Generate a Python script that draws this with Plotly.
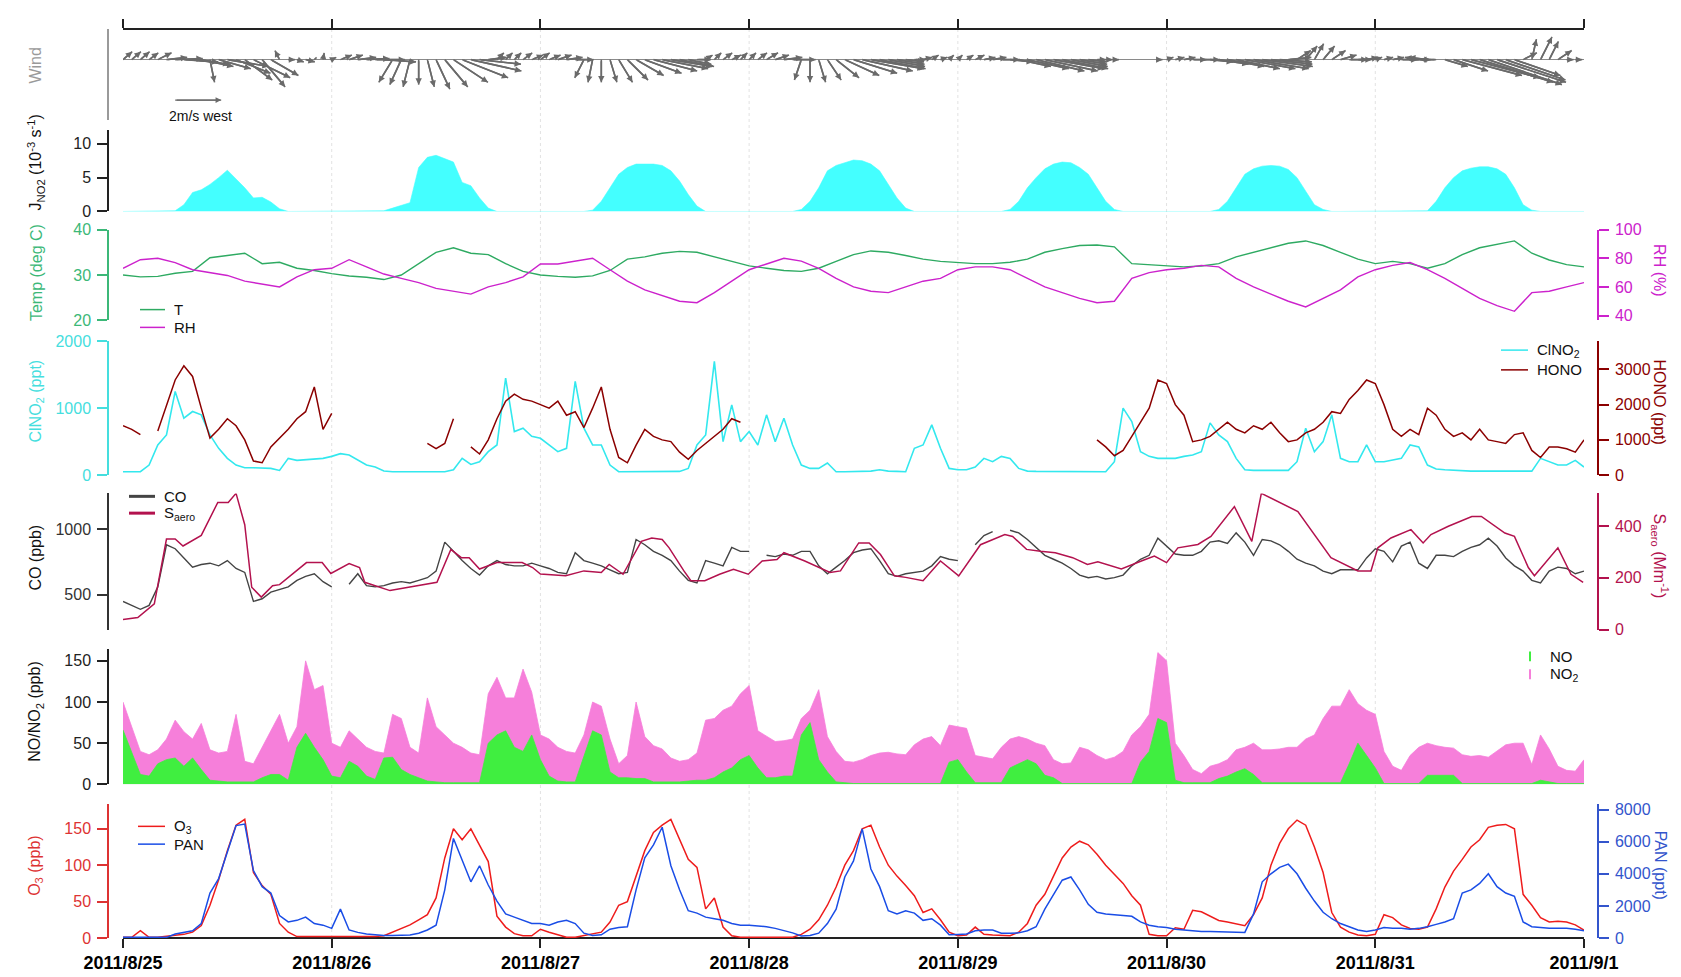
import plotly.graph_objects as go

# ---------------- data (hours since 2011/8/25 00:00) ----------------
hours = list(range(169))
day_ticks = [0, 24, 48, 72, 96, 120, 144, 168]
day_labels = ["2011/8/25", "2011/8/26", "2011/8/27", "2011/8/28",
              "2011/8/29", "2011/8/30", "2011/8/31", "2011/9/1"]

jno2 = [0,0,0,0,0,0,0.1,1.0,2.8,3.2,4.0,5.0,6.1,4.8,3.5,2.0,2.1,1.4,0.4,0,0,0,0,0,
        0,0,0,0,0,0,0.1,0.5,0.9,1.3,6.5,8.0,8.3,7.8,7.3,4.3,3.8,2.0,0.5,0,0,0,0,0,
        0,0,0,0,0,0,0.2,1.5,3.5,5.5,6.5,7.0,7.0,7.0,6.8,6.0,4.5,2.5,0.8,0,0,0,0,0,
        0,0,0,0,0,0,0.3,1.5,3.5,6.0,6.8,7.2,7.6,7.5,7.0,6.0,4.0,2.0,0.5,0,0,0,0,0,
        0,0,0,0,0,0,0.3,1.5,3.5,5.0,6.3,7.0,7.3,7.2,6.5,5.5,3.5,1.5,0.3,0,0,0,0,0,
        0,0,0,0,0,0,0.3,1.5,3.5,5.5,6.3,6.7,6.8,6.7,6.2,5.0,3.0,1.0,0.3,0,0,0,0,0,
        0,0,0,0,0,0,0.1,1.5,3.5,5.0,6.0,6.4,6.6,6.6,6.3,5.5,3.5,1.0,0.2,0,0,0,0,0,
        0]

temp_hours = list(range(0, 169, 2))
temp = [30.0,29.6,29.7,30.4,30.8,33.8,34.3,34.8,32.5,32.8,31.5,31.0,
        30.3,29.8,29.5,29.0,30.0,32.5,35.0,36.0,34.8,34.5,32.5,30.8,
        30.0,29.7,29.5,29.8,31.0,33.5,34.0,34.8,35.2,35.0,34.0,33.0,
        32.0,31.5,31.0,30.8,31.5,33.0,34.5,35.3,35.0,34.3,33.5,33.0,
        32.8,32.5,32.5,32.8,33.5,35.0,35.8,36.5,36.6,36.2,32.5,32.3,
        32.0,31.8,32.0,32.5,34.0,35.0,36.0,37.0,37.5,36.5,35.0,33.5,
        32.5,33.0,32.5,31.5,32.5,34.5,36.0,36.8,37.5,34.8,33.3,32.3,
        31.8]
rh = [73,79,80,77,72,70,68,64,62,60,67,72,
      73,79,74,69,66,63,59,57,55,60,63,67,
      76,76,78,80,72,64,58,54,50,49,56,64,
      72,76,80,78,73,66,60,57,56,60,64,66,
      72,74,74,72,66,60,56,52,49,50,66,70,
      72,73,75,74,66,60,55,50,46,52,58,67,
      72,75,77,72,66,59,52,47,43,56,57,60,
      63]

clno2 = [50,50,50,150,450,600,1250,850,950,900,600,400,250,150,110,110,110,100,70,250,220,230,250,250,
         280,320,300,230,150,120,60,50,50,50,50,50,50,50,80,250,160,200,350,450,1450,650,700,580,
         550,450,350,400,1400,700,450,450,150,50,50,50,50,50,60,60,55,100,450,600,1700,500,1050,500,
         650,450,900,500,850,450,150,100,100,180,50,50,50,55,60,80,60,55,50,400,450,750,400,100,
         80,80,120,250,200,280,250,100,60,55,55,55,55,55,55,55,50,50,200,1000,800,350,280,250,
         250,250,280,300,350,780,600,500,250,80,70,70,70,70,70,200,700,350,500,900,250,200,200,450,
         200,200,220,250,450,420,150,90,80,70,60,60,60,60,55,50,50,50,60,250,200,150,150,220,
         120]

N = None
hono = [1400,1300,1150,N,1250,2000,2700,3100,2800,1900,1050,1300,1600,1400,1000,400,350,800,1050,1300,1600,1800,2500,1300,
        1750,N,N,N,N,N,N,N,N,N,N,900,750,900,1600,N,800,600,1000,1600,2100,2300,2150,2100,
        2000,1900,2100,1700,1800,1350,1900,2500,1300,500,350,850,1300,1100,1000,950,650,450,700,900,1100,1300,1600,1500,
        N,N,N,N,N,N,N,N,N,N,N,N,N,N,N,N,N,N,N,N,N,N,N,N,
        N,N,N,N,N,N,N,N,N,N,N,N,N,N,N,N,1000,800,550,700,1100,1500,1900,2700,
        2600,2000,1700,950,1000,1100,1300,1500,1300,1200,1400,1300,1500,1200,950,1000,1200,1300,1500,1800,1750,2150,2400,2700,
        2600,2000,1300,1100,1300,1150,1900,1700,1300,1100,1200,1000,1300,1000,950,900,1150,1200,700,500,800,800,750,650,
        1000]

co = [450,420,390,420,560,880,850,780,710,730,740,720,760,700,670,450,470,520,540,560,610,640,660,600,
      560,N,580,660,570,560,570,590,600,590,610,630,680,900,830,760,700,650,720,760,730,720,720,740,
      720,700,670,660,820,760,740,720,690,660,670,920,880,830,800,760,680,610,590,760,740,720,860,830,
      830,N,800,790,810,800,830,830,720,660,710,760,820,840,850,760,660,640,660,670,680,720,790,770,
      760,N,880,950,980,N,990,970,920,860,800,770,740,700,650,630,640,620,630,650,720,770,800,930,
      870,810,800,800,830,900,910,890,970,900,800,920,910,880,830,770,740,720,680,660,690,690,690,780,
      850,830,750,870,900,740,700,800,800,790,830,860,880,930,870,780,720,680,610,590,680,710,700,660,
      680]

saero_hours = [0,1.7,3.6,5,6,6.9,9,10.9,12.1,13,14,14.8,15.9,17.2,18,21.1,22.9,23.9,26,27.2,27.8,30.7,
               36.1,37.7,38.9,39.8,41,43,45.9,47.1,48,50.9,53,55,55.9,57.5,59.6,60.8,62,62.8,64.5,65.3,
               66.9,68.6,70.2,71.9,73.5,75.2,76,78.4,81.3,82.5,84.6,85.8,87.1,88.7,90,92,94,96.1,98.6,
               101.4,102.3,103.9,105.5,107.2,109.2,110.9,112.1,114.8,117.1,118.6,120,121.3,123.6,125.1,
               127.8,129.8,130.9,135.1,138.9,142,143.5,144.3,145.8,148.1,149.5,150.4,152.4,155.1,156.2,
               158.9,160,161.6,162.3,165,166.5,167.9]
saero = [39,47,100,350,350,323,364,491,491,526,405,164,126,170,174,259,259,217,255,240,183,151,
         183,310,278,278,234,259,259,240,215,208,227,221,252,214,341,354,348,316,227,189,
         189,214,233,214,265,271,297,265,221,227,335,335,290,208,202,189,265,208,328,
         367,360,310,303,297,278,252,262,234,265,284,259,316,329,360,
         475,341,526,456,278,227,227,316,354,386,335,367,399,437,437,
         373,360,240,208,316,214,183]

no2 = [100,70,40,36,42,55,78,64,55,74,42,38,40,85,28,25,45,65,85,50,70,150,115,120,
       50,45,65,55,45,40,38,85,80,45,38,105,70,60,50,45,38,36,110,130,105,105,140,112,
       60,55,45,40,38,60,100,95,55,25,35,100,58,47,43,32,28,30,38,78,80,90,95,110,
       120,65,58,52,53,55,80,90,115,58,40,28,27,30,35,38,39,37,36,48,55,58,47,72,
       70,68,35,33,31,45,55,58,55,50,47,30,25,26,45,42,35,30,33,40,60,70,85,160,
       150,50,35,18,13,22,25,30,42,45,50,42,42,43,45,45,55,60,80,95,95,115,98,90,
       85,40,22,17,35,45,50,47,45,44,36,34,35,33,40,48,50,50,24,60,43,22,17,16,
       30]
no = [66,40,12,10,25,30,32,22,32,18,5,4,3,3,3,3,8,12,12,5,45,62,45,30,
      10,8,28,22,10,6,32,33,18,12,8,4,3,2,2,2,2,2,50,60,65,45,40,60,
      30,10,4,3,3,35,65,60,15,8,8,7,7,3,3,3,3,4,5,5,8,15,20,30,
      35,20,8,8,10,10,60,75,30,15,3,2,1,1,1,1,1,1,1,1,1,1,1,27,
      30,15,2,2,2,2,20,25,30,25,11,8,1,1,1,1,1,1,1,1,1,27,40,80,
      75,5,2,2,2,2,7,10,15,19,12,2,2,2,2,2,2,2,2,2,2,25,50,35,
      20,1,1,1,1,1,11,11,11,11,1,1,1,1,1,1,1,1,1,5,3,1,1,1,
      1]

o3 = [1,1,10,1,1,2,3,5,8,17,45,80,120,155,163,90,72,60,20,8,2,2,2,2,
      1,1,1,1,1,2,3,8,12,18,25,32,55,110,150,135,150,128,105,30,15,6,3,3,
      12,8,4,1,1,3,5,8,22,45,50,85,120,145,155,163,135,108,97,40,55,15,3,1,
      1,1,1,1,1,1,5,12,25,45,70,100,120,150,155,125,100,85,72,58,35,40,25,8,
      3,4,15,5,4,3,3,8,20,45,60,85,110,125,133,128,115,100,88,75,58,45,5,3,
      3,14,12,38,36,30,24,22,19,17,32,55,100,130,150,162,155,125,90,35,15,8,4,3,
      5,32,28,18,13,12,15,40,70,92,108,125,135,152,155,156,150,60,45,28,22,23,22,18,
      11]
pan = [40,40,40,40,40,40,250,350,450,900,2800,3700,5300,7000,7100,4200,3200,2800,1400,1000,1100,1300,900,800,
       600,1800,500,350,250,200,150,150,150,180,300,500,800,3000,6200,4800,3500,4500,3300,2300,1500,1300,1100,900,
       900,800,1000,1100,900,300,150,200,550,650,700,3000,5000,5800,6900,4500,3000,1700,1550,1300,1200,1100,900,800,
       800,750,700,600,450,320,120,150,300,900,1800,3800,4800,6800,4300,3200,1700,1500,1700,1550,1100,1200,800,200,
       220,250,450,500,500,300,300,320,450,700,1800,2700,3600,3800,3000,2100,1600,1500,1450,1400,1350,1000,800,700,
       650,550,500,450,400,400,380,350,330,350,1500,3500,4000,4400,4600,4000,3100,2300,1600,1200,900,700,500,400,
       500,650,600,600,550,600,700,850,1000,1200,2800,3000,3400,4000,3200,2800,2600,1000,700,650,600,600,600,550,
       450]

wind_hours = list(range(168))
wind_u = [0.4,0.4,0.4,0.4,0.6,0.9,1.2,1.5,1.6,1.4,0.2,1.4,1.8,1.5,1.2,1.6,1.0,1.2,-0.2,0.3,0.3,0.4,0.1,0.05,
          0.2,0.5,0.6,0.8,1.0,1.3,1.4,-0.6,-0.5,-0.3,0.0,0.3,0.6,1.0,1.5,2.0,2.2,1.8,0.8,0.3,0.3,0.3,0.4,0.5,
          0.4,0.5,0.6,0.7,0.8,-0.4,-0.2,0.0,0.3,0.6,0.9,1.2,1.6,1.9,2.0,1.8,1.5,1.0,0.6,0.3,0.3,0.4,0.4,0.3,
          0.3,0.4,0.5,0.6,0.8,1.0,-0.3,0.0,0.3,0.6,1.0,1.5,1.9,2.2,2.3,2.0,1.6,1.2,0.8,0.5,0.4,0.3,0.3,0.2,
          0.2,0.3,0.4,0.5,0.6,0.8,1.0,1.4,1.8,2.1,2.3,2.2,2.0,1.6,1.2,0.8,0.4,0.3,0.2,0.1,0.1,0.1,0.1,0.2,
          0.3,0.4,0.5,0.6,0.8,1.0,1.3,1.6,1.9,2.2,2.4,2.2,1.8,1.4,1.0,0.6,0.5,0.4,0.5,0.6,0.7,0.8,0.6,0.5,
          0.3,0.4,0.5,0.7,0.9,-0.6,-0.8,-0.7,1.0,1.5,2.6,3.0,3.2,3.2,3.0,2.6,2.0,0.6,0.2,0.5,0.4,0.6,0.3,0.3]
wind_v = [0.35,0.35,0.35,0.3,0.3,0.1,0.05,-0.1,-0.2,-0.3,-1.0,-0.4,-0.3,-0.6,-0.9,-0.8,-1.2,-0.7,0.4,0.0,-0.1,-0.1,0.1,0.3,
          0.1,0.2,0.2,0.1,0.05,0.0,-0.1,-1.0,-1.1,-1.2,-1.1,-1.2,-1.3,-1.2,-1.0,-0.8,-0.5,-0.2,0.1,0.3,0.3,0.3,0.3,0.2,
          0.3,0.2,0.2,0.1,0.0,-0.8,-1.0,-1.0,-1.0,-1.0,-0.9,-0.7,-0.6,-0.5,-0.4,-0.3,-0.3,-0.2,0.0,0.2,0.3,0.3,0.2,0.3,
          0.3,0.3,0.3,0.2,0.1,0.0,-0.9,-1.0,-1.0,-0.9,-0.8,-0.7,-0.6,-0.5,-0.4,-0.4,-0.3,-0.2,-0.1,0.0,0.1,0.2,0.1,0.2,
          0.2,0.2,0.2,0.1,0.1,0.0,-0.1,-0.3,-0.4,-0.5,-0.5,-0.4,-0.4,-0.3,-0.2,-0.1,0.0,0.0,0.0,0.0,0.0,0.0,0.0,0.0,
          0.1,0.1,0.1,0.0,0.0,-0.1,-0.2,-0.3,-0.4,-0.4,-0.4,-0.3,-0.2,-0.1,0.1,0.4,0.6,0.7,0.6,0.4,0.2,0.0,0.0,0.1,
          0.1,0.1,0.1,0.0,0.0,0.1,0.1,0.0,-0.3,-0.5,-0.7,-0.8,-1.0,-1.1,-1.0,-0.9,-0.7,0.3,0.9,1.0,0.8,0.4,0.0,0.0]
wind_scale_speed = 2.0  # m/s, reference arrow

# ---------------- geometry ----------------
W, H = 1681, 977
ML, MR, MT, MB = 100, 91, 15, 42
PW, PH = W - ML - MR, H - MT - MB
FONT = "Liberation Sans, Arial, Helvetica, sans-serif"


def fx(x):
    return (x - ML) / PW


def fy(y):
    return (H - MB - y) / PH


X0, X1 = 115, 1576
px_per_hour = (X1 - X0) / 168.0
px_per_ms = 23.0
K = px_per_ms / px_per_hour  # hours of x per m/s

C_WIND = '#6a6a6a'
C_WAX = '#9a9a9a'
C_J = '#44ffff'
C_T = '#2eaa62'
C_TAX = '#3cb878'
C_RH = '#cc22cc'
C_CL = '#33e8ee'
C_CLAX = '#45dede'
C_HONO = '#8b0000'
C_CO = '#444444'
C_S = '#b3124e'
C_NO = '#40ee40'
C_NO2 = '#f67fda'
C_O3 = '#ee1c1c'
C_O3AX = '#dd3333'
C_PAN = '#1a4de6'
C_PANAX = '#3355cc'

fig = go.Figure()
annots = []

# wind sticks (shafts as a trace, heads as data-referenced annotation arrows)
wx, wy = [], []
for h, u, v in zip(wind_hours, wind_u, wind_v):
    if u * u + v * v < 0.02:
        continue
    tip_x, tip_y = h + u * K, v
    wx += [h, tip_x, None]
    wy += [0, tip_y, None]
    annots.append(dict(x=tip_x, y=tip_y, ax=h, ay=0, xref='x2', yref='y', axref='x2', ayref='y',
                       text='', showarrow=True, arrowhead=2, arrowsize=0.8, arrowwidth=1.6,
                       arrowcolor=C_WIND, standoff=0, startstandoff=0))
fig.add_trace(go.Scatter(x=wx, y=wy, mode='lines', xaxis='x2', yaxis='y',
                         line=dict(color=C_WIND, width=1.6), connectgaps=False,
                         showlegend=False, hoverinfo='skip'))
# scale arrow (2 m/s)
sx0, sy0 = 6.0, -1.78
fig.add_trace(go.Scatter(x=[sx0, sx0 + wind_scale_speed * K], y=[sy0, sy0], mode='lines',
                         xaxis='x2', yaxis='y', line=dict(color=C_WIND, width=1.4),
                         showlegend=False, hoverinfo='skip'))
annots.append(dict(x=sx0 + wind_scale_speed * K, y=sy0, ax=sx0, ay=sy0, xref='x2', yref='y',
                   axref='x2', ayref='y', text='', showarrow=True, arrowhead=2, arrowsize=0.8,
                   arrowwidth=1.4, arrowcolor=C_WIND, standoff=0))

fig.add_trace(go.Scatter(x=hours, y=jno2, yaxis='y3', fill='tozeroy', fillcolor=C_J,
                         line=dict(color=C_J, width=0.6), showlegend=False))
fig.add_trace(go.Scatter(x=temp_hours, y=temp, yaxis='y5', line=dict(color=C_T, width=1.4), showlegend=False))
fig.add_trace(go.Scatter(x=temp_hours, y=rh, yaxis='y6', line=dict(color=C_RH, width=1.4), showlegend=False))
fig.add_trace(go.Scatter(x=hours, y=clno2, yaxis='y7', line=dict(color=C_CL, width=1.6), showlegend=False))
fig.add_trace(go.Scatter(x=hours, y=hono, yaxis='y8', line=dict(color=C_HONO, width=1.5),
                         connectgaps=False, showlegend=False))
fig.add_trace(go.Scatter(x=hours, y=co, yaxis='y9', line=dict(color=C_CO, width=1.4),
                         connectgaps=False, showlegend=False))
fig.add_trace(go.Scatter(x=saero_hours, y=saero, yaxis='y10', line=dict(color=C_S, width=1.5), showlegend=False))
fig.add_trace(go.Scatter(x=hours, y=no2, yaxis='y11', fill='tozeroy', fillcolor=C_NO2,
                         line=dict(color=C_NO2, width=0.8), showlegend=False))
fig.add_trace(go.Scatter(x=hours, y=no, yaxis='y11', fill='tozeroy', fillcolor=C_NO,
                         line=dict(color=C_NO, width=0.8), showlegend=False))
fig.add_trace(go.Scatter(x=hours, y=o3, yaxis='y13', line=dict(color=C_O3, width=1.5), showlegend=False))
fig.add_trace(go.Scatter(x=hours, y=pan, yaxis='y14', line=dict(color=C_PAN, width=1.5), showlegend=False))


def yax(domain, rng, color, tickvals, side='left', overlaying=None, labels=True, ticks='outside', **kw):
    d = dict(range=rng, anchor='free', position=0 if side == 'left' else 1, side=side,
             showline=True, linecolor=color, linewidth=1.5, ticks=ticks, ticklen=10, tickwidth=1.5,
             tickcolor=color, tickvals=tickvals, showticklabels=labels,
             tickfont=dict(size=16, color=color, family=FONT), ticklabelstandoff=3,
             showgrid=False, zeroline=False, fixedrange=True)
    if overlaying:
        d['overlaying'] = overlaying
    else:
        d['domain'] = domain
    d.update(kw)
    return d


dom_wind = [fy(107), fy(15)]
dom_j = [fy(199.7), fy(117)]
dom_t = [fy(310), fy(218)]
dom_cl = [fy(466.5), fy(331)]
dom_co = [fy(623), fy(485)]
dom_no = [fy(779.5), fy(643)]
dom_o3 = [fy(935), fy(799)]

wind_rng = [-(107 - 46) / px_per_ms, (46 - 15) / px_per_ms]

layout = dict(
    width=W, height=H, margin=dict(l=ML, r=MR, t=MT, b=MB),
    paper_bgcolor='white', plot_bgcolor='rgba(0,0,0,0)', showlegend=False,
    font=dict(family=FONT, size=16, color='black'),
    xaxis=dict(domain=[fx(X0), fx(X1)], range=[0, 168], anchor='free', position=0,
               tickvals=day_ticks, ticktext=day_labels, ticks='outside', ticklen=9, tickwidth=1.5,
               showline=True, linecolor='#222222', linewidth=1.5, tickcolor='#222222',
               tickfont=dict(size=18, family=FONT, weight='bold', color='black'),
               showgrid=False, zeroline=False, fixedrange=True),
    xaxis2=dict(overlaying='x', side='top', anchor='free', position=1, range=[0, 168],
                tickvals=day_ticks, ticks='outside', ticklen=9, tickwidth=1.5, showticklabels=False,
                showline=True, linecolor='#222222', linewidth=1.5, tickcolor='#222222',
                showgrid=False, zeroline=False, fixedrange=True),
    yaxis=yax(dom_wind, wind_rng, C_WAX, [], ticks='', labels=False,
              zeroline=True, zerolinecolor='#8a8a8a', zerolinewidth=1),
    yaxis2=yax(None, wind_rng, C_WAX, [], side='right', overlaying='y', ticks='', labels=False),
    yaxis3=yax(dom_j, [0, 12.07], '#222222', [0, 5, 10]),
    yaxis4=yax(None, [0, 12.07], '#222222', [0, 5, 10], side='right', overlaying='y3'),
    yaxis5=yax(dom_t, [20, 40], C_TAX, [20, 30, 40]),
    yaxis6=yax(None, [36.6, 100], C_RH, [40, 60, 80, 100], side='right', overlaying='y5'),
    yaxis7=yax(dom_cl, [0, 2000], C_CLAX, [0, 1000, 2000]),
    yaxis8=yax(None, [0, 3800], C_HONO, [0, 1000, 2000, 3000], side='right', overlaying='y7'),
    yaxis9=yax(dom_co, [235, 1270], '#333333', [500, 1000]),
    yaxis10=yax(None, [0, 526], C_S, [0, 200, 400], side='right', overlaying='y9'),
    yaxis11=yax(dom_no, [0, 163.8], '#222222', [0, 50, 100, 150]),
    yaxis12=yax(None, [0, 163.8], '#222222', [0, 50, 100, 150], side='right', overlaying='y11'),
    yaxis13=yax(dom_o3, [0, 184.6], C_O3AX, [0, 50, 100, 150]),
    yaxis14=yax(None, [0, 8370], C_PANAX, [0, 2000, 4000, 6000, 8000], side='right', overlaying='y13'),
)
fig.update_layout(**layout)

shapes = []
for d in day_ticks[1:-1]:
    shapes.append(dict(type='line', xref='x', yref='paper', x0=d, x1=d, y0=0, y1=1, layer='below',
                       line=dict(color='#e2e2e2', width=1, dash='dot')))


def title(text, x, y, color, angle):
    annots.append(dict(text=text, xref='paper', yref='paper', x=fx(x), y=fy(y), showarrow=False,
                       textangle=angle, xanchor='center', yanchor='middle',
                       font=dict(size=16, color=color, family=FONT)))


title('Wind', 28, 52, '#9a9a9a', -90)
title('J<sub>NO2</sub> (10<sup>-3</sup> s<sup>-1</sup>)', 28, 150, '#111111', -90)
title('Temp (deg C)', 28, 262, C_TAX, -90)
title('ClNO<sub>2</sub> (ppt)', 28, 392, C_CLAX, -90)
title('CO (ppb)', 28, 550, '#111111', -90)
title('NO/NO<sub>2</sub> (ppb)', 28, 706, '#111111', -90)
title('O<sub>3</sub> (ppb)', 28, 862, C_O3AX, -90)
title('RH (%)', 1652, 259, C_RH, 90)
title('HONO (ppt)', 1652, 393, C_HONO, 90)
title('S<sub>aero</sub> (Mm<sup>-1</sup>)', 1652, 549, C_S, 90)
title('PAN (ppt)', 1652, 862, C_PANAX, 90)


def leg_line(x0, x1, y, color, width, text, tx):
    shapes.append(dict(type='line', xref='paper', yref='paper', x0=fx(x0), x1=fx(x1), y0=fy(y), y1=fy(y),
                       line=dict(color=color, width=width)))
    annots.append(dict(text=text, xref='paper', yref='paper', x=fx(tx), y=fy(y), showarrow=False,
                       xanchor='left', yanchor='middle', font=dict(size=15, color='#111111', family=FONT)))


leg_line(132, 157, 299, C_T, 1.5, 'T', 164)
leg_line(132, 157, 317, C_RH, 1.5, 'RH', 164)
leg_line(1493, 1520, 340, C_CL, 1.5, 'ClNO<sub>2</sub>', 1527)
leg_line(1493, 1520, 360, C_HONO, 1.5, 'HONO', 1527)
leg_line(121, 147, 488, C_CO, 3, 'CO', 154)
leg_line(121, 147, 505, C_S, 3, 'S<sub>aero</sub>', 154)
leg_line(130, 157, 822, C_O3, 1.5, 'O<sub>3</sub>', 164)
leg_line(130, 157, 840, C_PAN, 1.5, 'PAN', 164)
for yy, col, txt in [(650, C_NO, 'NO'), (668, C_NO2, 'NO<sub>2</sub>')]:
    shapes.append(dict(type='line', xref='paper', yref='paper', x0=fx(1522), x1=fx(1522),
                       y0=fy(yy - 5), y1=fy(yy + 5), line=dict(color=col, width=2)))
    annots.append(dict(text=txt, xref='paper', yref='paper', x=fx(1540), y=fy(yy), showarrow=False,
                       xanchor='left', yanchor='middle', font=dict(size=15, color='#111111', family=FONT)))

annots.append(dict(text='2m/s west', xref='paper', yref='paper', x=fx(159), y=fy(103), showarrow=False,
                   xanchor='left', yanchor='middle', font=dict(size=14, color='#111111', family=FONT)))

fig.update_layout(shapes=shapes, annotations=annots)
fig.write_html("out.html")
